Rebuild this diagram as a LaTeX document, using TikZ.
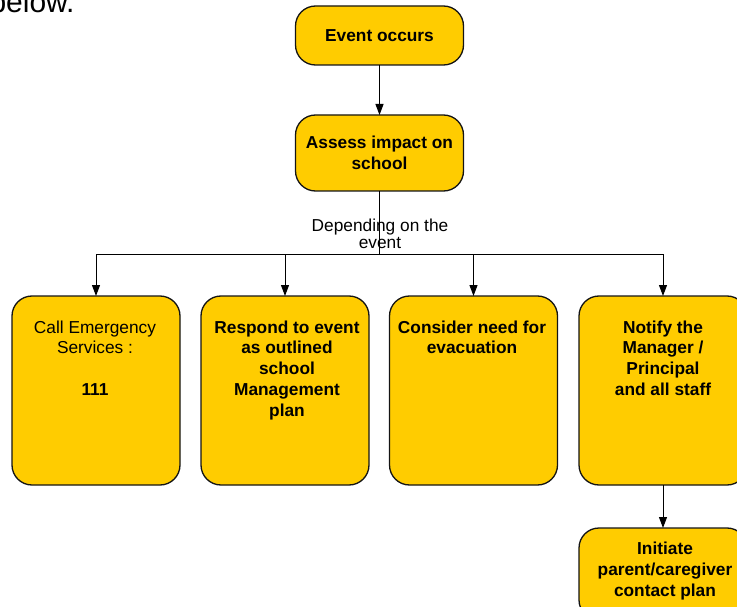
\documentclass[tikz,border=0pt]{standalone}
\usepackage{fontspec}
\setmainfont{Liberation Sans}
\usetikzlibrary{arrows.meta}
\definecolor{boxfill}{RGB}{255,204,0}
\definecolor{boxline}{RGB}{20,20,20}
\tikzset{
  fbox/.style={draw=boxline, line width=1.3pt, fill=boxfill, rounded corners=20pt,
    minimum width=168pt, inner sep=0pt, outer sep=0pt},
  boxtext/.style={font=\fontsize{17.3}{20.7}\selectfont, align=center, inner sep=0pt},
  conn/.style={draw=black, line width=1pt},
  arr/.style={conn, -{Triangle[length=11pt,width=8pt]}}
}
\begin{document}
\begin{tikzpicture}[x=1pt,y=-1pt]
\useasboundingbox (0,0) rectangle (737,607);
\clip (0,0) rectangle (737,607);
% partial heading text from surrounding page
\node[anchor=base east, inner sep=0pt, font=\fontsize{30}{35}\selectfont] (hd) at (74.8,13) {below.};
% top boxes
\node[fbox, minimum height=59pt, boxtext, font=\bfseries\fontsize{17.3}{20.7}\selectfont] (ev) at (379.5,35.5) {Event occurs};
\node[fbox, minimum height=76pt, boxtext, font=\bfseries\fontsize{17.3}{20.7}\selectfont] (as) at (379.5,153) {Assess impact on\\school};
% bottom boxes
\node[fbox, minimum height=189pt] (b1) at (96,390.5) {};
\node[fbox, minimum height=189pt] (b2) at (285,390.5) {};
\node[fbox, minimum height=189pt] (b3) at (473.5,390.5) {};
\node[fbox, minimum height=189pt] (b4) at (663,390.5) {};
\node[fbox, minimum height=92pt] (b5) at (663,574) {};
% texts
\node[boxtext, anchor=north] (t1) at (95,320.5) {Call Emergency\\Services :\\[20.7pt]\textbf{111}};
\node[boxtext, anchor=north, font=\bfseries\fontsize{17.3}{20.7}\selectfont] (t2) at (287,320.5) {Respond to event\\as outlined\\school\\Management\\plan};
\node[boxtext, anchor=north, font=\bfseries\fontsize{17.3}{20.7}\selectfont] (t3) at (472,320.5) {Consider need for\\evacuation};
\node[boxtext, anchor=north, font=\bfseries\fontsize{17.3}{20.7}\selectfont] (t4) at (663,320.5) {Notify the\\Manager /\\Principal\\and all staff};
\node[boxtext, anchor=north, font=\bfseries\fontsize{17.3}{20.7}\selectfont] (t5) at (665,542) {Initiate\\parent/caregiver\\contact plan};
\node[boxtext, anchor=north, font=\fontsize{17.3}{17}\selectfont] (lbl) at (380,219) {Depending on the\\event};
% connectors
\coordinate (split) at (379.5,254);
\draw[arr] (ev) -- (as);
\draw[conn] (as) -- (split);
\draw[arr] (split) -| (b1);
\draw[arr] (split) -| (b2);
\draw[arr] (split) -| (b3);
\draw[arr] (split) -| (b4);
\draw[arr] (b4) -- (b5);
\end{tikzpicture}
\end{document}
